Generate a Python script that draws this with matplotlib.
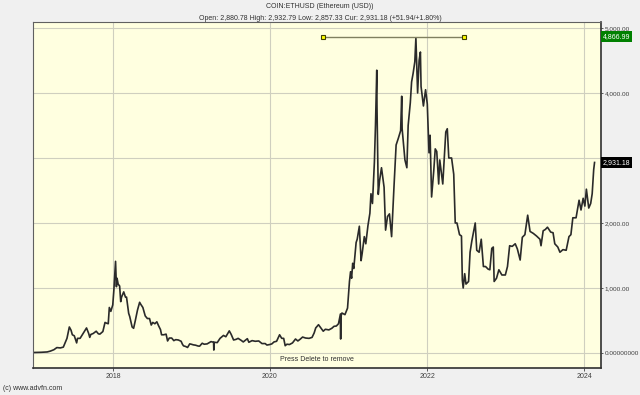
import numpy as np
import pandas as pd
import matplotlib
matplotlib.use("Agg")
import matplotlib.pyplot as plt
import matplotlib.dates as mdates
from matplotlib.ticker import FuncFormatter

plt.rcParams["font.family"] = ["Liberation Sans", "DejaVu Sans"]

# precio aproximado ETH/USD
fechas = [
    "2017-01-01", "2017-02-01", "2017-03-01", "2017-03-15", "2017-04-01", "2017-04-15", "2017-05-01",
    "2017-05-15", "2017-05-25", "2017-06-01", "2017-06-12", "2017-06-20", "2017-06-26", "2017-07-05",
    "2017-07-16", "2017-07-20", "2017-08-01", "2017-08-15", "2017-08-31", "2017-09-10", "2017-09-15",
    "2017-09-20", "2017-10-01", "2017-10-15", "2017-10-25", "2017-11-01", "2017-11-15", "2017-11-25",
    "2017-12-01", "2017-12-10", "2017-12-15", "2017-12-22", "2017-12-31",
    "2018-01-05", "2018-01-10", "2018-01-13", "2018-01-17", "2018-01-20", "2018-01-25", "2018-02-01",
    "2018-02-06", "2018-02-10", "2018-02-20", "2018-02-28", "2018-03-05", "2018-03-15", "2018-03-20",
    "2018-03-31", "2018-04-07", "2018-04-15", "2018-04-25", "2018-05-05", "2018-05-10", "2018-05-20",
    "2018-05-31", "2018-06-10", "2018-06-20", "2018-06-28", "2018-07-05", "2018-07-15", "2018-07-24",
    "2018-08-01", "2018-08-10", "2018-08-15", "2018-08-25", "2018-09-05", "2018-09-12", "2018-09-20",
    "2018-10-01", "2018-10-11", "2018-10-20", "2018-11-01", "2018-11-14", "2018-11-20", "2018-11-25",
    "2018-12-05", "2018-12-14", "2018-12-24", "2018-12-31",
    "2019-01-10", "2019-01-20", "2019-02-01", "2019-02-08", "2019-02-20", "2019-03-01", "2019-03-15",
    "2019-04-02", "2019-04-14", "2019-04-15", "2019-04-16", "2019-05-01", "2019-05-14", "2019-05-30",
    "2019-06-10", "2019-06-26", "2019-07-05", "2019-07-16", "2019-07-28", "2019-08-06", "2019-08-20",
    "2019-08-30", "2019-09-18", "2019-09-25", "2019-10-10", "2019-10-25", "2019-11-10", "2019-11-25",
    "2019-12-10", "2019-12-18", "2019-12-31",
    "2020-01-10", "2020-01-20", "2020-02-01", "2020-02-15", "2020-02-25", "2020-03-05", "2020-03-12",
    "2020-03-20", "2020-04-01", "2020-04-15", "2020-04-29", "2020-05-10", "2020-05-20", "2020-06-01",
    "2020-06-15", "2020-07-01", "2020-07-15", "2020-07-25", "2020-08-01", "2020-08-14", "2020-08-25",
    "2020-09-05", "2020-09-15", "2020-10-01", "2020-10-15", "2020-10-25", "2020-11-05", "2020-11-15",
    "2020-11-24", "2020-11-25", "2020-11-26", "2020-12-01", "2020-12-15", "2020-12-27",
    "2021-01-05", "2021-01-10", "2021-01-15", "2021-01-20", "2021-01-25", "2021-02-05", "2021-02-10",
    "2021-02-20", "2021-02-28", "2021-03-05", "2021-03-15", "2021-03-22", "2021-04-01", "2021-04-10",
    "2021-04-15", "2021-04-22", "2021-05-01", "2021-05-06", "2021-05-12", "2021-05-13", "2021-05-19",
    "2021-05-25", "2021-06-03", "2021-06-15", "2021-06-22", "2021-07-01", "2021-07-10", "2021-07-20",
    "2021-07-31", "2021-08-10", "2021-08-20", "2021-08-31", "2021-09-05", "2021-09-07", "2021-09-20",
    "2021-09-29", "2021-10-05", "2021-10-15", "2021-10-21", "2021-10-28", "2021-11-05", "2021-11-10",
    "2021-11-18", "2021-11-25", "2021-12-01", "2021-12-04", "2021-12-15", "2021-12-25",
    "2022-01-02", "2022-01-10", "2022-01-15", "2022-01-22", "2022-02-01", "2022-02-08", "2022-02-15",
    "2022-02-24", "2022-03-01", "2022-03-15", "2022-03-29", "2022-04-05", "2022-04-12", "2022-04-25",
    "2022-05-05", "2022-05-12", "2022-05-20", "2022-06-01", "2022-06-10", "2022-06-14", "2022-06-18",
    "2022-06-25", "2022-07-01", "2022-07-13", "2022-07-20", "2022-07-28", "2022-08-13", "2022-08-20",
    "2022-08-31", "2022-09-10", "2022-09-20", "2022-09-30", "2022-10-12", "2022-10-20", "2022-10-29",
    "2022-11-05", "2022-11-09", "2022-11-20", "2022-12-01", "2022-12-15", "2022-12-31",
    "2023-01-10", "2023-01-20", "2023-02-01", "2023-02-15", "2023-02-25", "2023-03-10", "2023-03-20",
    "2023-04-01", "2023-04-14", "2023-04-25", "2023-05-10", "2023-05-25", "2023-06-10", "2023-06-15",
    "2023-06-25", "2023-07-05", "2023-07-15", "2023-07-30", "2023-08-10", "2023-08-18", "2023-09-01",
    "2023-09-11", "2023-09-25", "2023-10-10", "2023-10-23", "2023-11-01", "2023-11-10", "2023-11-25",
    "2023-12-09", "2023-12-18", "2023-12-28",
    "2024-01-05", "2024-01-12", "2024-01-23", "2024-02-01", "2024-02-08", "2024-02-15", "2024-02-19",
]
precios = [
    8, 10.7, 16, 28, 50, 83, 78,
    90, 170, 225, 400, 350, 280, 265,
    155, 225, 225, 300, 385, 300, 240,
    285, 300, 335, 295, 290, 330, 470,
    460, 450, 700, 640, 740,
    960, 1250, 1410, 1020, 1150, 1060, 1030,
    790, 860, 940, 860, 860, 610, 560,
    400, 380, 500, 660, 780, 750, 700,
    570, 530, 530, 430, 470, 450, 480,
    420, 360, 280, 280, 290, 185, 230,
    230, 190, 205, 200, 180, 135, 110,
    100, 85, 140, 135,
    125, 120, 107, 105, 150, 135, 140,
    175, 165, 45, 165, 160, 225, 270,
    250, 340, 285, 200, 210, 225, 195,
    170, 220, 165, 190, 180, 185, 145,
    145, 122, 130,
    140, 170, 180, 280, 225, 225, 112,
    135, 130, 155, 215, 185, 210, 245,
    230, 225, 240, 310, 385, 435, 385,
    335, 365, 355, 380, 410, 415, 450,
    600, 215, 560, 615, 590, 690,
    1100, 1250, 1150, 1380, 1300, 1700, 1750,
    1950, 1420, 1530, 1790, 1680, 1960, 2150,
    2450, 2300, 2940, 3500, 4350, 3800, 2440,
    2650, 2850, 2550, 1890, 2100, 2140, 1790,
    2550, 3200, 3300, 3420, 3950, 3450, 2970,
    2850, 3500, 3850, 4170, 4300, 4480, 4850,
    4000, 4500, 4630, 4100, 3800, 4050,
    3830, 3080, 3350, 2400, 2800, 3140, 3100,
    2600, 2970, 2600, 3400, 3450, 3000, 3000,
    2750, 2000, 2000, 1820, 1800, 1120, 1000,
    1220, 1060, 1100, 1550, 1720, 2000, 1580,
    1550, 1750, 1330, 1330, 1290, 1280, 1610,
    1630, 1100, 1150, 1280, 1200, 1200,
    1330, 1650, 1640, 1680, 1600, 1430, 1780,
    1820, 2120, 1870, 1840, 1800, 1750, 1650,
    1880, 1900, 1935, 1860, 1850, 1680, 1630,
    1550, 1590, 1580, 1790, 1820, 2080, 2080,
    2350, 2200, 2380,
    2260, 2520, 2230, 2300, 2450, 2820, 2931.18,
]
maximo = 4866.99
ultimo = 2931.18
titulo = "COIN:ETHUSD (Ethereum (USD))"
subtitulo = "Open: 2,880.78 High: 2,932.79 Low: 2,857.33 Cur: 2,931.18 (+51.94/+1.80%)"

fechas = pd.to_datetime(fechas)

fig = plt.figure(figsize=(6.4, 3.95), dpi=100, facecolor="#f0f0f0")
ax = fig.add_axes([33 / 640, 27 / 395, 568 / 640, 346 / 395])
ax.set_facecolor("#ffffe0")

ax.plot(fechas, precios, color="#2a2a2a", linewidth=1.2)

# linea horizontal del maximo con marcadores
ax.plot(pd.to_datetime(["2020-09-05", "2022-06-20"]), [maximo, maximo],
        color="#808060", linewidth=1, marker="s", markersize=3.5,
        markerfacecolor="#ffff00", markeredgecolor="#404000", markeredgewidth=0.8)

ax.set_xlim(pd.Timestamp("2016-12-25"), pd.Timestamp("2024-03-20"))
ax.set_ylim(-231, 5092)

ax.xaxis.set_major_locator(mdates.YearLocator(2))
ax.xaxis.set_major_formatter(mdates.DateFormatter("%Y"))
ax.set_yticks([0, 1000, 2000, 3000, 4000, 5000])
ax.yaxis.set_major_formatter(FuncFormatter(lambda v, p: "0.00000000" if v == 0 else f"{v:,.2f}"))
ax.yaxis.tick_right()

ax.tick_params(axis="x", labelsize=5, colors="#404040", length=2, width=0.6, pad=1.5)
ax.tick_params(axis="y", labelsize=4.6, colors="#404040", length=1.5, width=0.6, pad=1)
ax.grid(True, color="#cfcfbf", linewidth=0.8)

for lado in ["top", "left"]:
    ax.spines[lado].set_color("#606060")
    ax.spines[lado].set_linewidth(0.8)
for lado in ["bottom", "right"]:
    ax.spines[lado].set_color("#303030")
    ax.spines[lado].set_linewidth(1.2)

# etiquetas de precio en el eje derecho
ax.text(1.003, maximo, f"{maximo:,.2f}", transform=ax.get_yaxis_transform(), fontsize=5,
        color="white", va="center", ha="left", zorder=5,
        bbox=dict(boxstyle="square,pad=0.3", facecolor="#008000", edgecolor="none"))
ax.text(1.003, ultimo, f"{ultimo:,.2f}", transform=ax.get_yaxis_transform(), fontsize=5,
        color="white", va="center", ha="left", zorder=5,
        bbox=dict(boxstyle="square,pad=0.3", facecolor="#000000", edgecolor="none"))

ax.text(0.5, 0.025, "Press Delete to remove", transform=ax.transAxes, fontsize=5,
        color="#303030", ha="center", va="center")

fig.text(0.5, 1 - 7 / 395, titulo, fontsize=5, color="#303030", ha="center", va="center")
fig.text(0.5, 1 - 18 / 395, subtitulo, fontsize=5, color="#303030", ha="center", va="center")
fig.text(3 / 640, 1 - 388 / 395, "(c) www.advfn.com", fontsize=5, color="#303030",
         ha="left", va="center")

fig.savefig("out.png", dpi=100, facecolor=fig.get_facecolor())
